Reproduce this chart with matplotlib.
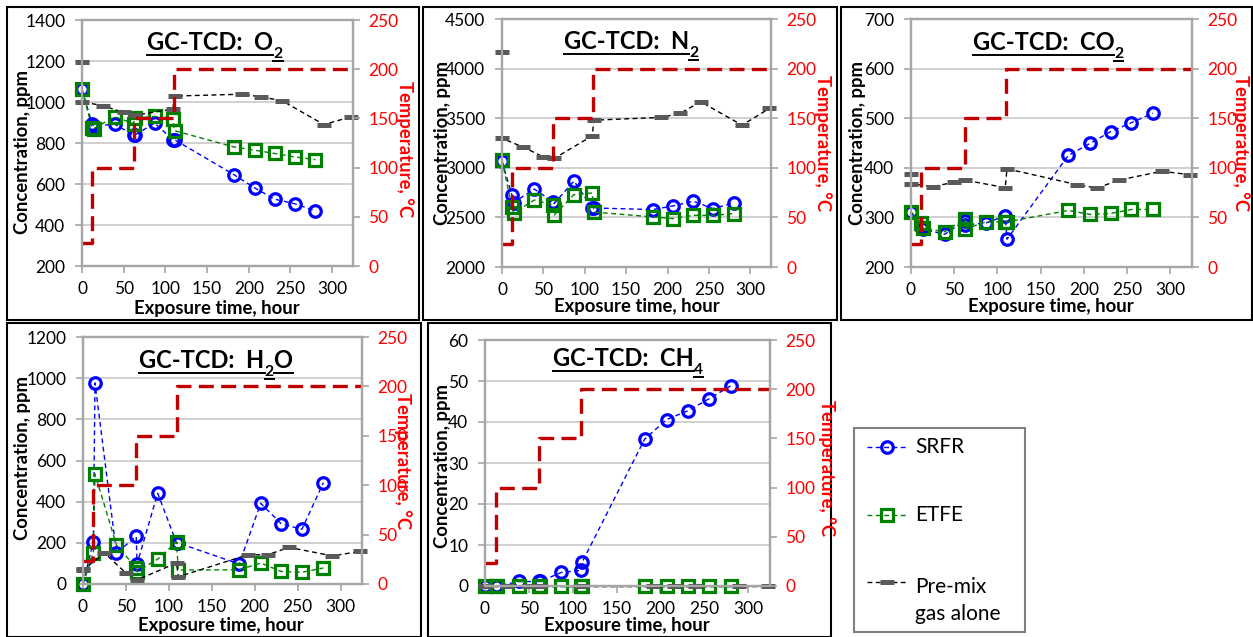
import matplotlib
matplotlib.use("Agg")
import matplotlib.pyplot as plt
from matplotlib.lines import Line2D
from matplotlib.patches import Rectangle
from matplotlib.transforms import IdentityTransform
import numpy as np

plt.rcParams['font.family'] = ['Lato', 'DejaVu Sans']

W, H, DPI = 1253, 637, 100

# ---- exposure times (hours) ----
sample_hours = [0, 12, 14, 39, 62, 63, 87, 109, 111, 182, 207, 231, 255, 280]
premix_hours = [0, 0, 25, 50, 63, 109, 111, 192, 215, 240, 290, 323]

# ---- oven temperature programme ----
temp_hours = [0, 12, 12, 62, 62, 110, 110, 325]
temp_c = [23, 23, 100, 100, 150, 150, 200, 200]

# ---- GC-TCD concentrations (ppm) ----
o2_srfr = [1061, 895, 882, 892, 838, 838, 897, 816, 816, 646, 581, 526, 504, 469]
o2_etfe = [1061, 875, 870, 928, 895, 920, 930, 915, 860, 781, 765, 749, 732, 719]
o2_premix = [1196, 1001, 982, 949, 935, 965, 1029, 1038, 1025, 1006, 890, 928]

n2_srfr = [3067, 2726, 2650, 2786, 2655, 2640, 2867, 2595, 2595, 2579, 2616, 2663, 2589, 2646]
n2_etfe = [3078, 2605, 2544, 2675, 2625, 2524, 2730, 2746, 2554, 2505, 2488, 2521, 2521, 2538]
n2_premix = [4170, 3296, 3211, 3110, 3094, 3322, 3480, 3508, 3548, 3666, 3430, 3598]

co2_srfr = [310, 281, 276, 266, 293, 285, 289, 303, 256, 425, 449, 473, 491, 510]
co2_etfe = [311, 289, 278, 271, 297, 277, 291, 291, 291, 314, 306, 308, 316, 316]
co2_premix = [388, 368, 362, 371, 375, 360, 398, 366, 359, 375, 393, 386]

h2o_srfr = [0, 204, 977, 151, 231, 98, 441, 199, 199, 97, 392, 292, 266, 492]
h2o_etfe = [0, 151, 534, 189, 78, 60, 121, 204, 68, 69, 102, 61, 57, 78]
h2o_premix = [73, 68, 151, 53, 20, 102, 35, 142, 142, 178, 137, 158]

ch4_srfr = [0, 0, 0, 1.1, 1.1, 1.1, 3.3, 3.8, 5.9, 35.8, 40.6, 42.7, 45.6, 48.8]
ch4_etfe = [0, 0, 0, 0, 0, 0, 0, 0, 0, 0, 0, 0, 0, 0]
ch4_premix = [0, 0, 0, 0, 0, 0, 0, 0, 0, 0, 0, 0]

series_labels = ["SRFR", "ETFE", "Pre-mix\ngas alone"]
x_label = "Exposure time, hour"
y_label = "Concentration, ppm"
t_label = "Temperature, \u00b0C"

# layout of each panel, in pixels from the top-left corner
panels = [
    dict(title=[("GC-TCD:  O", False), ("2", True)], srfr=o2_srfr, etfe=o2_etfe, premix=o2_premix,
         ylim=(200, 1400), ystep=200, box=(82, 20, 353, 266), frame=(7, 7, 419, 320),
         title_at=(215, 50), ylab=(23, 152), tlab=(405, 149), xlab=(217, 308)),
    dict(title=[("GC-TCD:  N", False), ("2", True)], srfr=n2_srfr, etfe=n2_etfe, premix=n2_premix,
         ylim=(2000, 4500), ystep=500, box=(502, 19, 771, 267), frame=(423, 7, 837, 320),
         title_at=(631, 49), ylab=(442, 143), tlab=(823, 143), xlab=(637, 307)),
    dict(title=[("GC-TCD:  CO", False), ("2", True)], srfr=co2_srfr, etfe=co2_etfe, premix=co2_premix,
         ylim=(200, 700), ystep=100, box=(911, 19, 1192, 267), frame=(841, 7, 1252, 320),
         title_at=(1048, 50), ylab=(858, 143), tlab=(1241, 143), xlab=(1051, 307)),
    dict(title=[("GC-TCD:  H", False), ("2", True), ("O", False)], srfr=h2o_srfr, etfe=h2o_etfe,
         premix=h2o_premix, ylim=(0, 1200), ystep=200, box=(83, 337, 362, 584), frame=(7, 323, 421, 637),
         title_at=(216, 368), ylab=(23, 458), tlab=(403, 461), xlab=(221, 625)),
    dict(title=[("GC-TCD:  CH", False), ("4", True)], srfr=ch4_srfr, etfe=ch4_etfe, premix=ch4_premix,
         ylim=(0, 60), ystep=10, box=(485, 340, 770, 586), frame=(428, 323, 831, 637),
         title_at=(628, 366), ylab=(442, 466), tlab=(827, 468), xlab=(627, 625)),
]

SRFR_STYLE = dict(color='#0000FF', lw=1.0, dashes=(3.5, 2.5), marker='o', ms=8.3, mew=2.3,
                  mfc='none', mec='#0000FF')
ETFE_STYLE = dict(color='#008000', lw=1.0, dashes=(3.5, 2.5), marker='s', ms=8.0, mew=2.3,
                  mfc='none', mec='#008000')
PREMIX_STYLE = dict(color='black', lw=1.0, dashes=(3.5, 2.5), marker='_', ms=10, mew=3.6,
                    mec='#5A5A5A')
TEMP_STYLE = dict(color='#C00000', lw=2.4, dashes=(4.5, 2.2))

AXIS_GREY = '#A6A6A6'
TICK_SIZE = 12.5
LABEL_SIZE = 13.3

fig = plt.figure(figsize=(W / DPI, H / DPI), dpi=DPI)
px = IdentityTransform()


def fig_xy(x, y):
    return x / W, 1 - y / H


for p in panels:
    l, t, r, b = p['box']
    ax = fig.add_axes([l / W, 1 - b / H, (r - l) / W, (b - t) / H])
    y0, y1 = p['ylim']
    ax.set_xlim(0, 325)
    ax.set_ylim(y0, y1)
    ax.set_xticks(np.arange(0, 301, 50))
    ax.set_yticks(np.arange(y0, y1 + 1, p['ystep']))
    ax.grid(axis='y', color='#C8C8C8', lw=1.2)
    ax.set_axisbelow(True)
    for s in ax.spines.values():
        s.set_color(AXIS_GREY)
        s.set_linewidth(1.6)
    ax.tick_params(axis='y', direction='out', length=5, width=1.2, color=AXIS_GREY,
                   pad=7, labelsize=TICK_SIZE)
    ax.tick_params(axis='x', direction='out', length=5, width=1.2, color=AXIS_GREY,
                   pad=6, labelsize=TICK_SIZE)

    ax.plot(sample_hours, p['srfr'], clip_on=False, zorder=3, **SRFR_STYLE)
    ax.plot(sample_hours, p['etfe'], clip_on=False, zorder=4, **ETFE_STYLE)
    ax.plot(premix_hours, p['premix'], clip_on=False, zorder=5, **PREMIX_STYLE)

    ax2 = ax.twinx()
    ax2.set_ylim(0, 250)
    ax2.set_yticks(np.arange(0, 251, 50))
    for s in ax2.spines.values():
        s.set_color(AXIS_GREY)
        s.set_linewidth(1.6)
    ax2.tick_params(axis='y', direction='out', length=5, width=1.2, color=AXIS_GREY,
                    pad=6, labelsize=TICK_SIZE, labelcolor='#FF0000')
    ax2.plot(temp_hours, temp_c, **TEMP_STYLE)

    # axis titles
    fig.text(*fig_xy(*p['ylab']), y_label, rotation=90, ha='center', va='center',
             fontsize=LABEL_SIZE, fontweight='bold')
    fig.text(*fig_xy(*p['tlab']), t_label, rotation=270, ha='center', va='center',
             fontsize=LABEL_SIZE, fontweight='bold', color='#FF0000')
    fig.text(*fig_xy(*p['xlab']), x_label, ha='center', va='center',
             fontsize=LABEL_SIZE, fontweight='bold')

    # panel frame
    fl, ft, fr, fb = p['frame']
    fig.add_artist(Rectangle(fig_xy(fl, fb), (fr - fl) / W, (fb - ft) / H,
                             transform=fig.transFigure, fill=False, ec='black', lw=1.5))

# underlined titles with subscripts
renderer = fig.canvas.get_renderer()
TITLE_SIZE = 17
for p in panels:
    cx, base = p['title_at']
    items = []
    for s, sub in p['title']:
        fs = TITLE_SIZE * 0.66 if sub else TITLE_SIZE
        txt = fig.text(0, 0, s, fontsize=fs, fontweight='bold', transform=px,
                       ha='left', va='baseline')
        items.append((txt, sub, txt.get_window_extent(renderer).width))
    x = cx - sum(w for _, _, w in items) / 2
    for txt, sub, w in items:
        by = H - base - (8 if sub else 0)
        txt.set_position((x, by))
        uy = by - (2.5 if sub else 5)
        fig.add_artist(Line2D([x, x + w], [uy, uy], transform=px, color='black', lw=1.4))
        x += w

# legend box
lx0, ly0, lx1, ly1 = 854, 428, 1025, 632
fig.add_artist(Rectangle(fig_xy(lx0, ly1), (lx1 - lx0) / W, (ly1 - ly0) / H,
                         transform=fig.transFigure, fill=False, ec='#808080', lw=1.5))
key_rows = [447, 515, 582]
for style, label, ry in zip([SRFR_STYLE, ETFE_STYLE, PREMIX_STYLE], series_labels, key_rows):
    key = Line2D([867, 887, 907], [H - ry] * 3, transform=px, markevery=[1], **style)
    fig.add_artist(key)
    if '\n' in label:
        # baseline of the last line; the first line then sits level with the key
        fig.text(915, H - 620, label, transform=px, ha='left', va='baseline',
                 fontsize=15, linespacing=1.45)
    else:
        fig.text(915, H - ry, label, transform=px, ha='left', va='center', fontsize=15)

fig.savefig("out.png", dpi=DPI)
